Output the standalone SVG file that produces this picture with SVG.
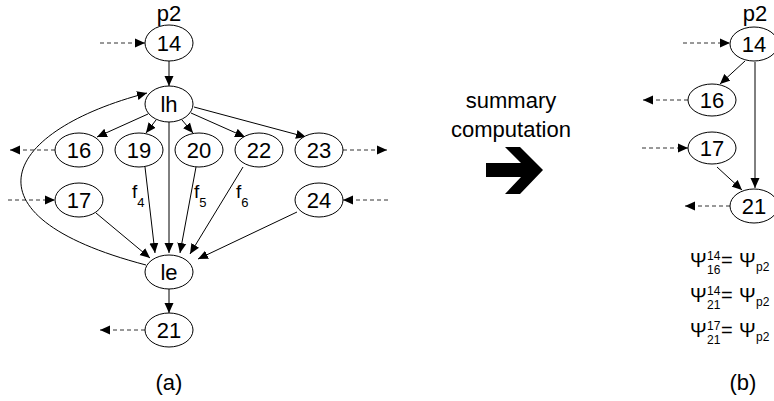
<svg xmlns="http://www.w3.org/2000/svg" width="774" height="401" viewBox="0 0 774 401">
<defs>
<style>
.n ellipse{fill:#fff;stroke:#000;stroke-width:1}
.n text,.t{font-family:"Liberation Sans",Arial,sans-serif;font-size:22px;text-anchor:middle;fill:#000}
.e{fill:none;stroke:#000;stroke-width:1}
.d{fill:none;stroke:#333;stroke-width:1;stroke-dasharray:4,3}
.f{font-family:"Liberation Sans",Arial,sans-serif;font-size:19px;fill:#000}
.s{font-size:13px}
.ps{font-family:"Liberation Sans",Arial,sans-serif;font-size:20px;fill:#000}
.ps .sm{font-size:12px}
</style>
<marker id="a" viewBox="0 0 10 10" refX="10" refY="5" markerWidth="10" markerHeight="10" markerUnits="userSpaceOnUse" orient="auto">
<path d="M0,0.5 L10,5 L0,9.5 Z" fill="#000"/>
</marker>
</defs>
<rect width="774" height="401" fill="#fff"/>

<g id="connectors">
<path class="d" d="M100,43 H145" marker-end="url(#a)"/>
<path class="e" d="M169,61 V86" marker-end="url(#a)"/>
<path class="e" d="M148,114 L97,137" marker-end="url(#a)"/>
<path class="e" d="M156,120 L146,133" marker-end="url(#a)"/>
<path class="e" d="M182,120 L193,133" marker-end="url(#a)"/>
<path class="e" d="M191,113 L245,137" marker-end="url(#a)"/>
<path class="e" d="M194,107 L306,137" marker-end="url(#a)"/>
<path class="d" d="M55,150 H10" marker-end="url(#a)"/>
<path class="d" d="M343,150 H387" marker-end="url(#a)"/>
<path class="d" d="M8,200 H55" marker-end="url(#a)"/>
<path class="d" d="M388,200 H343" marker-end="url(#a)"/>
<path class="e" d="M169,122 V253" marker-end="url(#a)"/>
<path class="e" d="M145,167 L155,253" marker-end="url(#a)"/>
<path class="e" d="M196,167 L180,253" marker-end="url(#a)"/>
<path class="e" d="M243,167 L190,254" marker-end="url(#a)"/>
<path class="e" d="M297,212 L198,259" marker-end="url(#a)"/>
<path class="e" d="M96,213 L150,258" marker-end="url(#a)"/>
<path class="e" d="M146,265 C-45,215 5,130 147,93" marker-end="url(#a)"/>
<path class="e" d="M169,289 V313" marker-end="url(#a)"/>
<path class="d" d="M145,330 H100" marker-end="url(#a)"/>
<path class="d" d="M683,43 H730" marker-end="url(#a)"/>
<path class="e" d="M745,61 L720,84" marker-end="url(#a)"/>
<path class="d" d="M688,100 H643" marker-end="url(#a)"/>
<path class="d" d="M642,148 H688" marker-end="url(#a)"/>
<path class="e" d="M755,62 V188" marker-end="url(#a)"/>
<path class="e" d="M717,167 L742,190" marker-end="url(#a)"/>
<path class="d" d="M730,206 H685" marker-end="url(#a)"/>
</g>

<g id="edge-labels">
<text class="f" x="132" y="198">f<tspan class="s" dy="9">4</tspan></text>
<text class="f" x="194" y="198">f<tspan class="s" dy="9">5</tspan></text>
<text class="f" x="236" y="198">f<tspan class="s" dy="9">6</tspan></text>
</g>

<text class="t" x="169" y="21" font-size="21">p2</text>
<g id="n14" class="n"><ellipse cx="169" cy="43" rx="24" ry="18"/><text x="169" y="51">14</text></g>
<g id="nlh" class="n"><ellipse cx="169" cy="104" rx="24" ry="18"/><text x="169" y="112">lh</text></g>
<g id="n16" class="n"><ellipse cx="79" cy="150" rx="24" ry="17"/><text x="79" y="158">16</text></g>
<g id="n19" class="n"><ellipse cx="139" cy="150" rx="24" ry="17"/><text x="139" y="158">19</text></g>
<g id="n20" class="n"><ellipse cx="199" cy="150" rx="24" ry="17"/><text x="199" y="158">20</text></g>
<g id="n22" class="n"><ellipse cx="259" cy="150" rx="24" ry="17"/><text x="259" y="158">22</text></g>
<g id="n23" class="n"><ellipse cx="319" cy="150" rx="24" ry="17"/><text x="319" y="158">23</text></g>
<g id="n17" class="n"><ellipse cx="79" cy="200" rx="24" ry="17"/><text x="79" y="208">17</text></g>
<g id="n24" class="n"><ellipse cx="319" cy="200" rx="24" ry="17"/><text x="319" y="208">24</text></g>
<g id="nle" class="n"><ellipse cx="169" cy="272" rx="24" ry="17"/><text x="169" y="280">le</text></g>
<g id="n21" class="n"><ellipse cx="169" cy="330" rx="24" ry="17"/><text x="169" y="338">21</text></g>
<text class="t" x="169" y="390">(a)</text>

<text class="t" x="511" y="108" font-size="24.5">summary</text>
<text class="t" x="511" y="137" font-size="24.5">computation</text>
<polygon points="486,163 521,163 505,147 520,147 543,170 520,194 505,194 521,177 486,177" fill="#000"/>

<text class="t" x="755" y="21" font-size="21">p2</text>
<g id="b14" class="n"><ellipse cx="754" cy="44" rx="24" ry="17"/><text x="754" y="52">14</text></g>
<g id="b16" class="n"><ellipse cx="712" cy="100" rx="24" ry="16"/><text x="712" y="108">16</text></g>
<g id="b17" class="n"><ellipse cx="712" cy="148" rx="24" ry="16"/><text x="712" y="156">17</text></g>
<g id="b21" class="n"><ellipse cx="754" cy="206" rx="24" ry="17"/><text x="754" y="214">21</text></g>

<g id="formulas" class="ps">
<text x="690" y="267">Ψ</text><text class="sm" x="707" y="260">14</text><text class="sm" x="707" y="274">16</text><text x="721" y="267">=</text><text x="739" y="267">Ψ</text><text class="sm" x="756" y="271">p2</text>
<text x="690" y="302">Ψ</text><text class="sm" x="707" y="295">14</text><text class="sm" x="707" y="309">21</text><text x="721" y="302">=</text><text x="739" y="302">Ψ</text><text class="sm" x="756" y="306">p2</text>
<text x="690" y="337">Ψ</text><text class="sm" x="707" y="330">17</text><text class="sm" x="707" y="344">21</text><text x="721" y="337">=</text><text x="739" y="337">Ψ</text><text class="sm" x="756" y="341">p2</text>
</g>
<text class="t" x="743" y="390">(b)</text>
</svg>
